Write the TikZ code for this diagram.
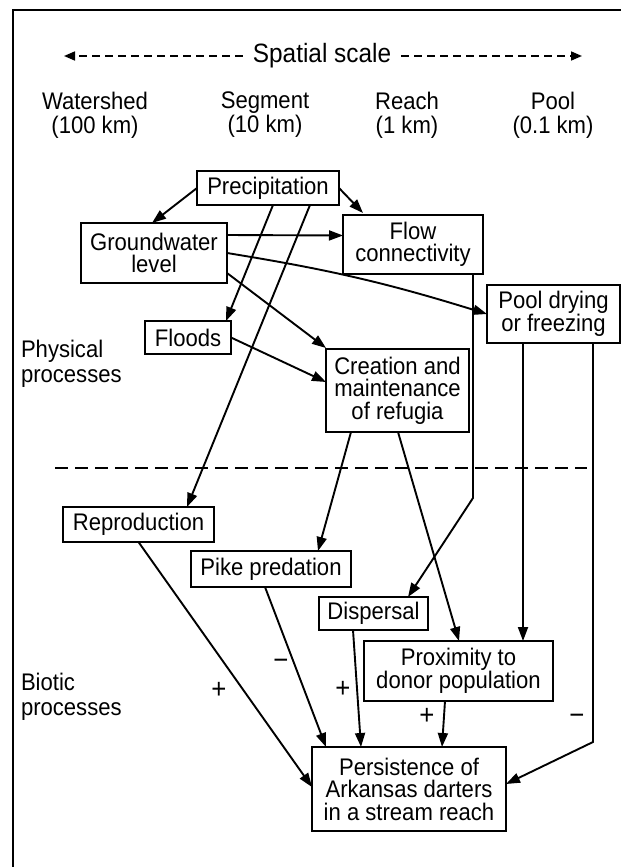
\documentclass[tikz,border=0pt]{standalone}
\usepackage{fontspec}
\setmainfont{Liberation Sans}[FakeStretch=0.92]
\usetikzlibrary{arrows.meta,calc}
\begin{document}
\begin{tikzpicture}[x=1pt,y=-1pt,
  every node/.style={inner sep=0pt, outer sep=0pt},
  box/.style={draw, line width=2pt, align=center, font=\fontsize{24}{22.5}\selectfont},
  lab/.style={align=left, font=\fontsize{24}{25}\selectfont},
  head/.style={align=center, font=\fontsize{24}{24}\selectfont},
  conn/.style={line width=1.9pt, -{Triangle[length=14pt,width=10pt]}},
  sgn/.style={font=\fontsize{28}{28}\selectfont},
  scalearrow/.style={line width=1.7pt, dash pattern=on 8pt off 5pt, -{Triangle[length=11pt,width=9pt]}}
]
\fill[white] (0,0) rectangle (621,867);
\useasboundingbox (0,0) rectangle (621,867);

% frame (top and left edges)
\coordinate (fbl) at (13,867);
\coordinate (ftr) at (621,10);
\draw[line width=2pt] (fbl) |- (ftr);

% spatial scale
\node[font=\fontsize{26.5}{26}\selectfont, inner xsep=10pt] (scale) at (322,56) {Spatial scale};
\coordinate (sl) at (64,56);
\coordinate (sr) at (582,56);
\draw[scalearrow] (scale.west) -- (sl);
\draw[scalearrow] (scale.east) -- (sr);

% headings
\node[head] (h1) at (95,115) {Watershed\\(100 km)};
\node[head] (h2) at (265,115) {Segment\\(10 km)};
\node[head] (h3) at (407,115) {Reach\\(1 km)};
\node[head] (h4) at (553,115) {Pool\\(0.1 km)};

% side labels
\node[lab, anchor=west] (phys) at (21,364) {Physical\\processes};
\node[lab, anchor=west] (bio) at (21,697) {Biotic\\processes};

% separator
\coordinate (d1) at (55,468);
\coordinate (d2) at (587,468);
\draw[line width=1.9pt, dash pattern=on 13pt off 7pt] (d1) -- (d2);

% boxes
\node[box, minimum width=142pt, minimum height=34pt] (precip) at (268,188) {Precipitation};
\node[box, minimum width=146pt, minimum height=60pt] (ground) at (154,253) {Groundwater\\level};
\node[box, minimum width=140pt, minimum height=59pt] (flow) at (413,244.5) {Flow\\connectivity};
\node[box, minimum width=133pt, minimum height=58pt] (pool) at (553.5,314) {Pool drying\\or freezing};
\node[box, minimum width=86pt, minimum height=33pt] (floods) at (188,337.5) {Floods};
\node[box, minimum width=143pt, minimum height=83pt] (creation) at (397.5,390.5) {Creation and\\maintenance\\of refugia};
\node[box, minimum width=151pt, minimum height=35pt] (repro) at (138.5,524.5) {Reproduction};
\node[box, minimum width=160pt, minimum height=36pt] (pike) at (271,569) {Pike predation};
\node[box, minimum width=109pt, minimum height=33pt] (disp) at (373.5,613.5) {Dispersal};
\node[box, minimum width=189pt, minimum height=60pt] (prox) at (458.5,671) {Proximity to\\donor population};
\node[box, minimum width=194pt, minimum height=84pt] (persist) at (409,789) {Persistence of\\Arkansas darters\\in a stream reach};

% connectors
\draw[conn] (precip.west) -- ($(ground.north west)+(71,0)$);
\draw[conn] (precip.east) -- ($(flow.north west)+(20,-2)$);
\draw[conn] ($(precip.south west)+(76,0)$) -- ($(floods.north west)+(81,0)$);
\draw[conn] ($(precip.south west)+(113,0)$) -- ($(repro.north west)+(124,0)$);
\draw[conn] ($(ground.north east)+(0,12)$) -- ($(flow.north west)+(0,20.5)$);
\draw[conn] (ground.east) to[bend left=4] (pool.west);
\draw[conn] ($(ground.north east)+(0,50)$) -- ($(creation.north west)+(0,-1)$);
\draw[conn] (floods.east) -- ($(creation.north west)+(0,33)$);

\coordinate (fk) at (473,498);
\draw[conn] ($(flow.south east)+(-10,0)$) -- (fk) -- ($(disp.north west)+(89,0)$);

\coordinate (pa) at ($(pool.south west)+(36,0)$);
\draw[conn] (pa) -- (pa |- prox.north);

\coordinate (pb) at ($(pool.south west)+(106,0)$);
\coordinate (pk) at (593,742);
\draw[conn] (pb) -- (pk) -- ($(persist.north east)+(0,37)$);

\draw[conn] ($(creation.south west)+(25,0)$) -- ($(pike.north west)+(127,0)$);
\draw[conn] ($(creation.south west)+(72,0)$) -- ($(prox.north west)+(95,0)$);

\draw[conn] (repro.south) -- ($(persist.north west)+(0,40)$);
\draw[conn] ($(pike.south west)+(74,0)$) -- ($(persist.north west)+(14,0)$);
\draw[conn] ($(disp.south west)+(34,0)$) -- ($(persist.north west)+(49,0)$);
\draw[conn] ($(prox.south west)+(81,0)$) -- ($(persist.north west)+(130,0)$);

% signs
\node[sgn] (s1) at (219,690) {+};
\node[sgn] (s2) at (281,664) {−};
\node[sgn] (s3) at (343,689) {+};
\node[sgn] (s4) at (427,716) {+};
\node[sgn] (s5) at (577,719) {−};
\end{tikzpicture}
\end{document}
